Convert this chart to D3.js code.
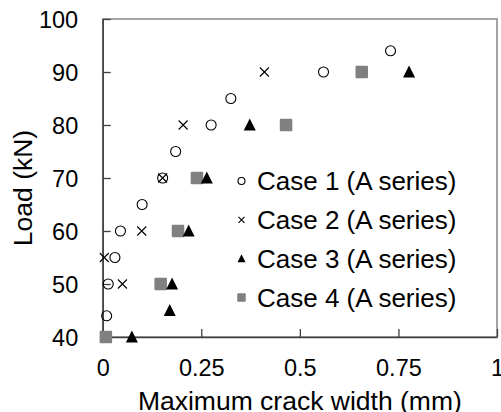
<!DOCTYPE html>
<html>
<head>
<meta charset="utf-8">
<script src="https://cdn.jsdelivr.net/npm/d3@7"></script>
<style>
  body { margin: 0; background: #fff; }
  text { font-family: "Liberation Sans", Arial, sans-serif; fill: #000; }
</style>
</head>
<body>
<div id="chart"></div>
<script>
// data
const case1 = [[0.73, 94], [0.56, 90], [0.325, 85], [0.275, 80], [0.185, 75], [0.152, 70], [0.10, 65], [0.045, 60], [0.031, 55], [0.014, 50], [0.01, 44]];
const case2 = [[0.41, 90], [0.204, 80], [0.152, 70], [0.099, 60], [0.004, 55], [0.05, 50]];
const case3 = [[0.777, 90], [0.373, 80], [0.264, 70], [0.218, 60], [0.176, 50], [0.17, 45], [0.074, 40]];
const case4 = [[0.657, 90], [0.465, 80], [0.239, 70], [0.191, 60], [0.147, 50], [0.008, 40]];
const seriesNames = ["Case 1 (A series)", "Case 2 (A series)", "Case 3 (A series)", "Case 4 (A series)"];
const xTicks = [0, 0.25, 0.5, 0.75, 1];
const yTicks = [40, 50, 60, 70, 80, 90, 100];

const W = 501, H = 412;
const mLeft = 102.7, mRight = 497, mTop = 19, mBottom = 337;

const svg = d3.select("#chart").append("svg")
    .attr("width", W)
    .attr("height", H);

const x = d3.scaleLinear().domain([0, 1]).range([mLeft, mRight]);
const y = d3.scaleLinear().domain([40, 100]).range([mBottom, mTop]);

// plot border
svg.append("rect")
    .attr("x", mLeft).attr("y", mTop)
    .attr("width", mRight - mLeft).attr("height", mBottom - mTop)
    .attr("fill", "none")
    .attr("stroke", "#868686")
    .attr("stroke-width", 1.5);

// axes with inward ticks
const xAxis = svg.append("g")
    .attr("transform", `translate(0,${mBottom})`)
    .call(d3.axisBottom(x).tickValues(xTicks).tickSizeInner(-8).tickSizeOuter(0)
        .tickFormat(d => String(d)));
xAxis.select(".domain").attr("stroke", "#404040").attr("stroke-width", 1.5);
xAxis.selectAll(".tick line").attr("stroke", "#404040").attr("stroke-width", 1.3);
xAxis.selectAll(".tick text")
    .attr("y", 39).attr("dy", null)
    .style("font-size", "23.5px");

const yAxis = svg.append("g")
    .attr("transform", `translate(${mLeft},0)`)
    .call(d3.axisLeft(y).tickValues(yTicks).tickSizeInner(-8).tickSizeOuter(0));
yAxis.select(".domain").attr("stroke", "#404040").attr("stroke-width", 1.5);
yAxis.selectAll(".tick text")
    .attr("x", -24.5).attr("dy", "0.36em")
    .style("font-size", "23.5px");
yAxis.selectAll(".tick line").attr("stroke", "#404040").attr("stroke-width", 1.3);

// axis titles
svg.append("text")
    .attr("x", (mLeft + mRight) / 2).attr("y", 410)
    .attr("text-anchor", "middle")
    .style("font-size", "26.5px")
    .text("Maximum crack width (mm)");

svg.append("text")
    .attr("transform", `translate(32,188) rotate(-90)`)
    .attr("text-anchor", "middle")
    .style("font-size", "26.5px")
    .text("Load (kN)");

// marker drawers
const sym = {
    circle: (g, cx, cy, s) => g.append("circle").attr("cx", cx).attr("cy", cy).attr("r", s * 0.5)
        .attr("fill", "none").attr("stroke", "#000").attr("stroke-width", 1.1),
    cross: (g, cx, cy, s) => g.append("path")
        .attr("d", `M${cx - s / 2},${cy - s / 2}L${cx + s / 2},${cy + s / 2}M${cx - s / 2},${cy + s / 2}L${cx + s / 2},${cy - s / 2}`)
        .attr("stroke", "#000").attr("stroke-width", 1.1).attr("fill", "none"),
    triangle: (g, cx, cy, s) => g.append("path")
        .attr("d", `M${cx},${cy - s * 0.55}L${cx + s / 2},${cy + s * 0.45}L${cx - s / 2},${cy + s * 0.45}Z`)
        .attr("fill", "#000"),
    square: (g, cx, cy, s) => g.append("rect")
        .attr("x", cx - s / 2).attr("y", cy - s / 2).attr("width", s).attr("height", s)
        .attr("rx", 1).attr("fill", "#808080")
};

const series = [
    {data: case1, shape: "circle", size: 10, lsize: 7},
    {data: case2, shape: "cross", size: 9, lsize: 6},
    {data: case3, shape: "triangle", size: 12, lsize: 8},
    {data: case4, shape: "square", size: 12.5, lsize: 8.5}
];

const marks = svg.append("g");
// draw case4 first so open markers sit on top
[3, 2, 1, 0].forEach(i => {
    const s = series[i];
    s.data.forEach(d => sym[s.shape](marks, x(d[0]), y(d[1]), s.size));
});

// legend
const legend = svg.append("g");
seriesNames.forEach((name, i) => {
    const ly = 181 + i * 38.8;
    sym[series[i].shape](legend, 241.5, ly, series[i].lsize);
    legend.append("text")
        .attr("x", 257).attr("y", ly).attr("dy", "0.36em")
        .style("font-size", "26px")
        .text(name);
});
</script>
</body>
</html>
